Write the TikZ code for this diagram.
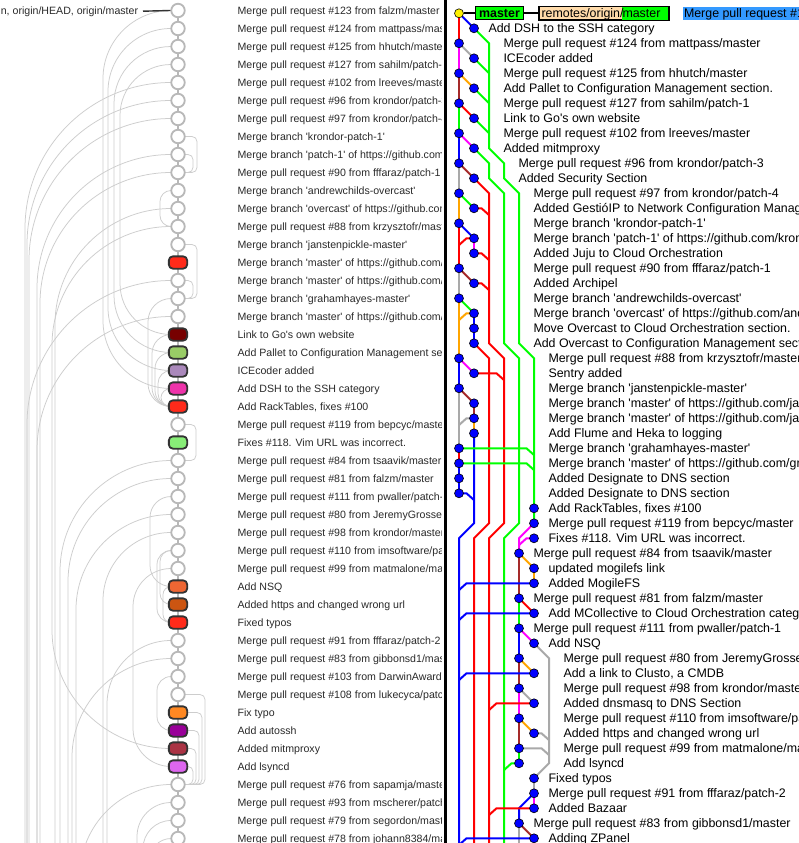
\documentclass[tikz,border=0pt]{standalone}
\usepackage{fontspec}
\setmainfont{Liberation Sans}[Ligatures=TeXOff]
\definecolor{ggreen}{HTML}{00FF00}
\definecolor{gbrown}{HTML}{A52A2A}
\definecolor{gorange}{HTML}{FFA500}
\definecolor{ggray}{HTML}{A9A9A9}
\definecolor{gmag}{HTML}{FF00FF}
\definecolor{ltxt}{HTML}{2A2A2A}
\definecolor{cgray}{HTML}{B8B8B8}
\definecolor{agray}{HTML}{CDCDCD}
\definecolor{cdark}{HTML}{333333}
\definecolor{rtan}{HTML}{FFDBAA}
\definecolor{selblue}{HTML}{3399FF}
\newcommand\LT[2]{\node[lt] (lt#1) at (237.4,{10.5+18*#1}) {#2};}
\newcommand\RT[3]{\node[rt] (rt#1) at (#2,#1) {#3};}
\begin{document}
\begin{tikzpicture}[x=1pt,y=-1pt,
  lt/.style={anchor=west, inner sep=0pt, font=\fontsize{10.6}{12}\selectfont, text=ltxt, text height=7.6pt, text depth=0pt},
  rt/.style={anchor=west, inner sep=0pt, xshift=-0.7pt, font=\fontsize{12.4}{14}\selectfont, text=black, text height=8.9pt, text depth=0pt},
  circ/.style={circle, draw=cgray, line width=1.8pt, fill=white, minimum size=13.5pt, inner sep=0pt},
  cnode/.style={rectangle, rounded corners=4pt, draw=cdark, line width=1.8pt, minimum width=18.3pt, minimum height=12.3pt, inner sep=0pt},
  arcl/.style={draw=agray, line width=0.75pt},
  gl/.style={line width=2pt},
  dot/.style={circle, fill=blue, draw=black, line width=0.6pt, minimum size=9pt, inner sep=0pt},
]
\useasboundingbox (0,0) rectangle (799,843);
\fill[white] (0,0) rectangle (799,843);
% ---------------- left panel ----------------
\begin{scope}
\clip (0,0) rectangle (441,843);
\draw[cgray, line width=1.8pt] (178,10.5) -- (178,838.5);
\foreach \xv/\ra/\rb in {103/0/21,108/1/20,114/2/19,120/3/18,25/4/-1,27/5/-1,29/6/-1,37/8/-1,40/9/-1,55/11/-1,52/12/41,27/15/-1,37/17/-1,60/25/-1,68/26/-1,76/28/-1,103/29/-1,107/35/-1,72/36/-1,80/43/-1,137/44/-1,143/45/-1,150/46/-1,160/10/12,148/16/22,152/18/22,155/19/22,158/20/22,161/21/22,150/27/32,157/30/34,160/30/33,163/32/34,133/31/42,157/37/40}{
  \pgfmathsetmacro\ya{10.5+18*\ra}
  \pgfmathsetmacro\yb{\rb<0 ? 1000 : 10.5+18*\rb}
  \pgfmathsetmacro\hh{171-\xv}
  \pgfmathsetmacro\vv{min(\hh,(\yb-\ya)/2)}
  \pgfmathsetmacro\cx{\xv+0.448*\hh}
  \draw[arcl] (171,\ya) .. controls (\cx,\ya) and (\xv,{\ya+0.448*\vv}) .. (\xv,{\ya+\vv}) -- (\xv,{\yb-\vv}) .. controls (\xv,{\yb-0.448*\vv}) and (\cx,\yb) .. (171,\yb);
}
\foreach \xr/\ra/\rb in {197/7/9,193/8/9,197/13/16,193/15/16,196/23/25,205/38/43,202/39/43,199/40/43,196/41/43,193/42/43}{
  \pgfmathsetmacro\ya{10.5+18*\ra}
  \pgfmathsetmacro\yb{10.5+18*\rb}
  \draw[arcl, rounded corners=5pt] (185,\ya) -| (\xr,\yb) -- (185,\yb);
}
\foreach \r in {0,...,13,15,16,17,23,25,26,27,28,29,30,31,35,36,37,38,43,44,45,46}{
  \node[circ] (c\r) at (178,{10.5+18*\r}) {};
}
\foreach \r/\cc in {14/FF2A1A,18/770000,19/99CC66,20/AA88BB,21/EE33AA,22/FF2A1A,24/88EE77,32/EE6633,33/CC5511,34/FF2A1A,39/FF8822,40/990099,41/AA3344,42/DD66EE}{
  \definecolor{tmpc}{HTML}{\cc}
  \node[cnode, fill=tmpc] (c\r) at (178,{10.5+18*\r}) {};
}
\node[lt, anchor=east] (head) at (138.3,11.2) {n, origin/HEAD, origin/master};
\draw[cdark, line width=1.4pt] (head.east) ++(4.7,0) -- (c0.west);
\LT{0}{Merge pull request \#123 from falzm/master}
\LT{1}{Merge pull request \#124 from mattpass/master}
\LT{2}{Merge pull request \#125 from hhutch/master}
\LT{3}{Merge pull request \#127 from sahilm/patch-1}
\LT{4}{Merge pull request \#102 from lreeves/master}
\LT{5}{Merge pull request \#96 from krondor/patch-3}
\LT{6}{Merge pull request \#97 from krondor/patch-4}
\LT{7}{Merge branch 'krondor-patch-1'}
\LT{8}{Merge branch 'patch-1' of https://github.com/krondor/awesome-sysadmin}
\LT{9}{Merge pull request \#90 from fffaraz/patch-1}
\LT{10}{Merge branch 'andrewchilds-overcast'}
\LT{11}{Merge branch 'overcast' of https://github.com/andrewchilds/awesome-sysadmin}
\LT{12}{Merge pull request \#88 from krzysztofr/master}
\LT{13}{Merge branch 'janstenpickle-master'}
\LT{14}{Merge branch 'master' of https://github.com/janstenpickle/awesome-sysadmin}
\LT{15}{Merge branch 'master' of https://github.com/janstenpickle/awesome-sysadmin}
\LT{16}{Merge branch 'grahamhayes-master'}
\LT{17}{Merge branch 'master' of https://github.com/grahamhayes/awesome-sysadmin}
\LT{18}{Link to Go's own website}
\LT{19}{Add Pallet to Configuration Management section.}
\LT{20}{ICEcoder added}
\LT{21}{Add DSH to the SSH category}
\LT{22}{Add RackTables, fixes \#100}
\LT{23}{Merge pull request \#119 from bepcyc/master}
\LT{24}{Fixes \#118. Vim URL was incorrect.}
\LT{25}{Merge pull request \#84 from tsaavik/master}
\LT{26}{Merge pull request \#81 from falzm/master}
\LT{27}{Merge pull request \#111 from pwaller/patch-1}
\LT{28}{Merge pull request \#80 from JeremyGrosser/master}
\LT{29}{Merge pull request \#98 from krondor/master}
\LT{30}{Merge pull request \#110 from imsoftware/patch-1}
\LT{31}{Merge pull request \#99 from matmalone/master}
\LT{32}{Add NSQ}
\LT{33}{Added https and changed wrong url}
\LT{34}{Fixed typos}
\LT{35}{Merge pull request \#91 from fffaraz/patch-2}
\LT{36}{Merge pull request \#83 from gibbonsd1/master}
\LT{37}{Merge pull request \#103 from DarwinAwardWinner/master}
\LT{38}{Merge pull request \#108 from lukecyca/patch-1}
\LT{39}{Fix typo}
\LT{40}{Add autossh}
\LT{41}{Added mitmproxy}
\LT{42}{Add lsyncd}
\LT{43}{Merge pull request \#76 from sapamja/master}
\LT{44}{Merge pull request \#93 from mscherer/patch-1}
\LT{45}{Merge pull request \#79 from segordon/master}
\LT{46}{Merge pull request \#78 from johann8384/master}
\end{scope}
% divider
\fill[black] (443.6,0) rectangle (446.6,843);
% ---------------- right panel ----------------
\begin{scope}
\clip (447,0) rectangle (799,843);
\begin{scope}[shift={(459,13.3)}, x=15pt, y=-15pt]
\foreach \r/\k in {0/0,1/1,2/0,3/1,4/0,5/1,6/0,7/1,8/0,9/1,10/0,11/1,12/0,13/1,14/0,15/1,16/1,17/0,18/1,19/0,20/1,21/1,22/1,23/0,24/1,25/0,26/1,27/1,28/1,29/0,30/0,31/0,32/0,33/5,34/5,35/5,36/4,37/5,38/5,39/4,40/5,41/4,42/5,43/4,44/5,45/4,46/5,47/4,48/5,49/4,50/4,51/5,52/5,53/5,54/4,55/5}{
  \coordinate (p\r) at (\k,\r);
}
% lines
\draw[gl,blue] (p0)--(p1);
\draw[gl,red] (p0)--(p2);
\draw[gl,ggreen] (p1)--(2,2)--(2,9)--(3,10)--(3,11)--(4,12)--(4,22)--(5,23)--(p33)--(p34);
\draw[gl,ggreen] (p3)--(2,4);
\draw[gl,ggreen] (p5)--(2,6);
\draw[gl,ggreen] (p7)--(2,8);
\draw[gl,ggray] (p2)--(p3);
\draw[gl,gmag] (p2)--(p4);
\draw[gl,gorange] (p4)--(p5);
\draw[gl,gbrown] (p4)--(p6);
\draw[gl,red] (p6)--(p7);
\draw[gl,ggreen] (p6)--(p8);
\draw[gl,gmag] (p8)--(p9);
\draw[gl,blue] (p8)--(p10);
\draw[gl,ggreen] (p9)--(2,10)--(2,11)--(3,12)--(3,22)--(4,23)--(4,34)--(3,35)--(3,57);
\draw[gl,gbrown] (p10)--(p11);
\draw[gl,ggray] (p10)--(p12);
\draw[gl,red] (p11)--(2,12)--(2,22)--(3,23)--(3,34)--(2,35)--(2,57);
\draw[gl,ggreen] (p12)--(p13);
\draw[gl,gorange] (p12)--(p14);
\draw[gl,red] (p13)--(1.5,13)--(2,13.45);
\draw[gl,blue] (p14)--(p15);
\draw[gl,red] (p14)--(p17);
\draw[gl,gmag] (p15)--(p16);
\draw[gl,red] (p15)--(0.5,15)--(0,15.45);
\draw[gl,red] (p16)--(1.5,16)--(2,16.45);
\draw[gl,gbrown] (p17)--(p18);
\draw[gl,ggray] (p17)--(p19);
\draw[gl,red] (p18)--(1.5,18)--(2,18.45);
\draw[gl,ggreen] (p19)--(p20);
\draw[gl,gorange] (p19)--(p23);
\draw[gl,gorange] (p20)--(0.5,20)--(0,20.45);
\draw[gl,blue] (p20)--(p22);
\draw[gl,red] (p22)--(2,23)--(2,34)--(1,35)--(1,57);
\draw[gl,gmag] (p23)--(p24);
\draw[gl,blue] (p23)--(p25);
\draw[gl,red] (p24)--(2.5,24)--(3,24.45);
\draw[gl,gbrown] (p25)--(p26);
\draw[gl,ggray] (p25)--(p29);
\draw[gl,gbrown] (p26)--(p27);
\draw[gl,ggray] (p27)--(0.5,27)--(0,27.45);
\draw[gl,gorange] (p27)--(p28);
\draw[gl,blue] (p28)--(1,34)--(0,35)--(0,57);
\draw[gl,red] (p29)--(p30);
\draw[gl,ggreen] (p29)--(4.5,29)--(5,29.45);
\draw[gl,ggreen] (p30)--(4.5,30)--(5,30.45);
\draw[gl,blue] (p30)--(p32);
\draw[gl,blue] (p32)--(0.5,32)--(1,32.45);
\draw[gl,gmag] (p34)--(4,35)--(p36);
\draw[gl,gmag] (p35)--(4.5,35)--(4,35.45);
\draw[gl,gorange] (p36)--(p37);
\draw[gl,gorange] (p37)--(p38);
\draw[gl,gbrown] (p36)--(p39);
\draw[gl,blue] (p38)--(0.5,38)--(0,38.45);
\draw[gl,red] (p39)--(p40);
\draw[gl,ggreen] (p39)--(p41);
\draw[gl,blue] (p40)--(0.5,40)--(0,40.45);
\draw[gl,gmag] (p41)--(p42);
\draw[gl,blue] (p41)--(p43);
\draw[gl,ggray] (p42)--(6,43)--(6,50)--(p51);
\draw[gl,gorange] (p43)--(p44);
\draw[gl,gbrown] (p43)--(p45);
\draw[gl,blue] (p44)--(0.5,44)--(0,44.45);
\draw[gl,ggray] (p45)--(p46);
\draw[gl,gmag] (p45)--(p47);
\draw[gl,red] (p46)--(2.5,46)--(2,46.45);
\draw[gl,gorange] (p47)--(p48);
\draw[gl,gbrown] (p47)--(p49);
\draw[gl,ggray] (p48)--(5.5,48)--(6,48.45);
\draw[gl,ggray] (p49)--(5.5,49)--(6,49.45);
\draw[gl,ggreen] (p49)--(p50);
\draw[gl,ggreen] (p50)--(3.5,50)--(3,50.45);
\draw[gl,ggray] (p51)--(p52);
\draw[gl,gmag] (p52)--(p53);
\draw[gl,blue] (p52)--(4,53)--(p54);
\draw[gl,red] (p53)--(2.5,53)--(2,53.45);
\draw[gl,gbrown] (p54)--(p55);
\draw[gl,ggray] (p54)--(4,57);
\draw[gl,blue] (p55)--(0.5,55)--(0,55.45);
% dots
\foreach \r in {1,...,55}{ \node[dot] (d\r) at (p\r) {}; }
\node[dot, fill=yellow] (d0) at (p0) {};
% texts
\RT{1}{2}{Add DSH to the SSH category}
\RT{2}{3}{Merge pull request \#124 from mattpass/master}
\RT{3}{3}{ICEcoder added}
\RT{4}{3}{Merge pull request \#125 from hhutch/master}
\RT{5}{3}{Add Pallet to Configuration Management section.}
\RT{6}{3}{Merge pull request \#127 from sahilm/patch-1}
\RT{7}{3}{Link to Go's own website}
\RT{8}{3}{Merge pull request \#102 from lreeves/master}
\RT{9}{3}{Added mitmproxy}
\RT{10}{4}{Merge pull request \#96 from krondor/patch-3}
\RT{11}{4}{Added Security Section}
\RT{12}{5}{Merge pull request \#97 from krondor/patch-4}
\RT{13}{5}{Added GestióIP to Network Configuration Management section.}
\RT{14}{5}{Merge branch 'krondor-patch-1'}
\RT{15}{5}{Merge branch 'patch-1' of https://github.com/krondor/awesome-sysadmin}
\RT{16}{5}{Added Juju to Cloud Orchestration}
\RT{17}{5}{Merge pull request \#90 from fffaraz/patch-1}
\RT{18}{5}{Added Archipel}
\RT{19}{5}{Merge branch 'andrewchilds-overcast'}
\RT{20}{5}{Merge branch 'overcast' of https://github.com/andrewchilds/awesome-sysadmin}
\RT{21}{5}{Move Overcast to Cloud Orchestration section.}
\RT{22}{5}{Add Overcast to Configuration Management section.}
\RT{23}{6}{Merge pull request \#88 from krzysztofr/master}
\RT{24}{6}{Sentry added}
\RT{25}{6}{Merge branch 'janstenpickle-master'}
\RT{26}{6}{Merge branch 'master' of https://github.com/janstenpickle/awesome-sysadmin}
\RT{27}{6}{Merge branch 'master' of https://github.com/janstenpickle/awesome-sysadmin}
\RT{28}{6}{Add Flume and Heka to logging}
\RT{29}{6}{Merge branch 'grahamhayes-master'}
\RT{30}{6}{Merge branch 'master' of https://github.com/grahamhayes/awesome-sysadmin}
\RT{31}{6}{Added Designate to DNS section}
\RT{32}{6}{Added Designate to DNS section}
\RT{33}{6}{Add RackTables, fixes \#100}
\RT{34}{6}{Merge pull request \#119 from bepcyc/master}
\RT{35}{6}{Fixes \#118. Vim URL was incorrect.}
\RT{36}{5}{Merge pull request \#84 from tsaavik/master}
\RT{37}{6}{updated mogilefs link}
\RT{38}{6}{Added MogileFS}
\RT{39}{5}{Merge pull request \#81 from falzm/master}
\RT{40}{6}{Add MCollective to Cloud Orchestration category}
\RT{41}{5}{Merge pull request \#111 from pwaller/patch-1}
\RT{42}{6}{Add NSQ}
\RT{43}{7}{Merge pull request \#80 from JeremyGrosser/master}
\RT{44}{7}{Add a link to Clusto, a CMDB}
\RT{45}{7}{Merge pull request \#98 from krondor/master}
\RT{46}{7}{Added dnsmasq to DNS Section}
\RT{47}{7}{Merge pull request \#110 from imsoftware/patch-1}
\RT{48}{7}{Added https and changed wrong url}
\RT{49}{7}{Merge pull request \#99 from matmalone/master}
\RT{50}{7}{Add lsyncd}
\RT{51}{6}{Fixed typos}
\RT{52}{6}{Merge pull request \#91 from fffaraz/patch-2}
\RT{53}{6}{Added Bazaar}
\RT{54}{5}{Merge pull request \#83 from gibbonsd1/master}
\RT{55}{6}{Adding ZPanel}
\end{scope}
% ref labels in row 0
\node[draw=black, line width=1pt, fill=ggreen, minimum width=48pt, minimum height=13pt, inner sep=0pt, anchor=west, font=\fontsize{12.4}{14}\selectfont\bfseries, text height=8.9pt, text depth=0pt] (mbox) at (475,13.3) {master};
\node[draw=black, line width=1pt, fill=rtan, minimum width=129.5pt, minimum height=13pt, inner sep=0pt, anchor=west] (rbox) at (538.5,13.3) {};
\fill[ggreen] (622,7) rectangle (667.5,19.6);
\draw[line width=1pt] (rbox.north west) rectangle (rbox.south east);
\node[rt] (rtx1) at (542,13.3) {remotes/origin/};
\node[rt] (rtx2) at (623,13.3) {master};
\draw[line width=1.6pt] (d0) -- (mbox.west);
\draw[line width=1.6pt] (mbox.east) -- (rbox.west);
\node[fill=selblue, anchor=west, minimum width=125pt, minimum height=13pt, inner sep=0pt] (sel) at (682.5,13.3) {};
\node[rt] (selt) at (684.5,13.3) {Merge pull request \#123 from falzm/master};
\end{scope}
\end{tikzpicture}
\end{document}
